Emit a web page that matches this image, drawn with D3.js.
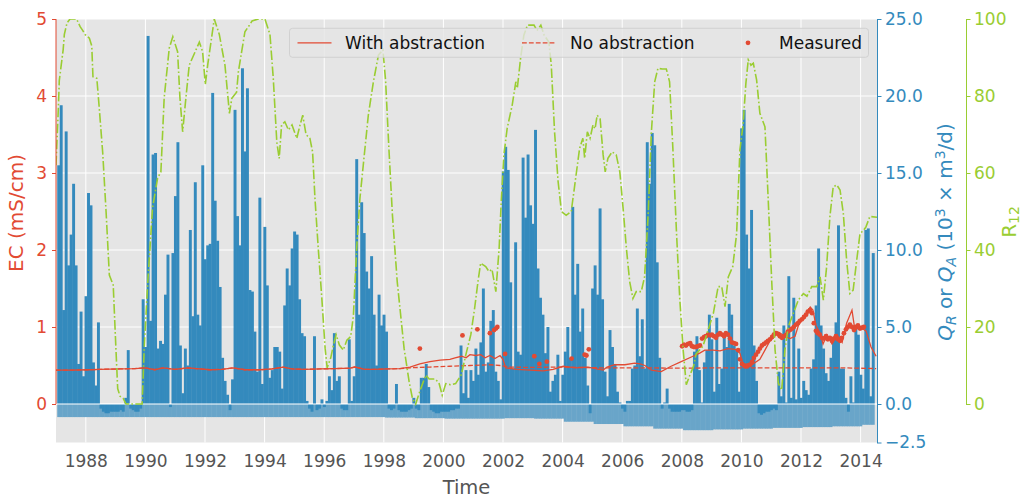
<!DOCTYPE html>
<html><head><meta charset="utf-8">
<script src="https://cdn.jsdelivr.net/npm/d3@7"></script>
<style>
html,body{margin:0;padding:0;background:#fff;}
svg{display:block;font-family:"DejaVu Sans",sans-serif;}
</style></head><body>
<svg id="chart" width="1023" height="498"></svg>
<script>
// Monthly recharge Q_R (10^3 m^3/d), January 1987 to May 2014
const rechargeStartYear = 1987;
const recharge = [
  15.5, 19.4, 6.1, 17.7, 9.0, 11.0, 14.3, 9.0, 2.6, 6.0, 1.8, 7.0,        // 1987
  13.7, 12.9, 2.7, 1.2, 5.3, -0.3, -0.5, -0.6, -0.6, -0.5, -0.5, -0.5,    // 1988
  -0.5, -0.4, -0.5, 0.4, 3.5, -0.3, -0.4, -0.5, -0.5, -0.3, 6.8, 3.7,     // 1989
  23.9, 5.4, 16.2, 16.3, 3.6, 4.1, 3.9, 7.1, 9.7, -0.2, 9.8, 13.5,        // 1990
  17.0, 3.8, 0.7, 3.6, 2.5, 11.3, 5.7, 14.4, 5.8, 5.1, 15.5, 9.4,         // 1991
  10.3, 10.4, 20.2, 13.2, 10.6, 7.6, 3.0, 1.5, 0.6, -0.4, 1.6, 19.1,      // 1992
  12.2, 10.3, 21.8, 16.4, 20.5, 7.4, 7.3, 4.7, 2.1, 13.4, 1.3, 11.5,      // 1993
  7.7, 1.7, 2.2, 3.7, 3.7, 3.4, 1.0, 6.4, 8.8, 7.7, 10.1, 11.2,           // 1994
  11.0, 6.8, 4.6, 4.4, 0.2, -0.3, -0.5, 4.4, -0.4, -0.3, 0.3, -0.2,       // 1995
  0.2, 1.8, 0.9, 4.6, 1.5, 1.8, -0.3, -0.4, -0.4, 4.2, 0.2, 1.8,          // 1996
  15.9, 5.8, 13.1, 11.1, 8.6, 7.5, 9.6, 5.8, 2.5, 7.1, 5.1, 5.8,          // 1997
  4.7, -0.3, -0.4, -0.3, 1.3, -0.4, -0.5, -0.5, -0.5, -0.4, -0.3, 0.4,    // 1998
  -0.3, -0.4, 1.7, 1.7, 2.6, 1.1, -0.4, -0.5, -0.6, -0.6, -0.5, -0.5,     // 1999
  -0.5, -0.5, -0.4, -0.4, -0.3, -0.3, 3.8, 0.7, 2.2, 0.4, 2.2, 1.5,       // 2000
  3.6, 1.9, 4.0, 7.5, 2.1, 2.7, 5.4, 6.1, 2.1, 1.5, 0.3, 15.1,            // 2001
  16.7, 15.2, 7.9, 2.3, 10.5, 3.4, 3.2, 16.0, 12.1, 16.2, 12.9, 11.7,     // 2002
  17.8, 8.8, 6.9, 5.8, 3.3, 5.0, 0.8, 1.5, 1.9, 3.2, 0.2, 1.9,            // 2003
  3.4, 5.0, 3.0, 12.8, 7.1, 9.1, 4.7, 6.2, 3.0, 1.2, -0.6, 7.5,           // 2004
  9.0, 7.1, 12.7, 6.8, 2.1, 0.5, 4.8, 3.7, 2.6, 0.8, 0.1, -0.3,           // 2005
  -0.5, 0.2, 0.2, 2.3, 2.5, 6.2, 3.1, 5.5, 2.3, 17.0, 14.3, 17.6,         // 2006
  16.8, 9.2, 3.0, -0.3, 0.1, 1.0, -0.3, -0.5, -0.5, -0.5, -0.5, -0.4,     // 2007
  -0.4, -0.5, -0.5, -0.4, 3.4, 4.4, 2.2, 0.1, 2.7, 3.5, 5.8, 4.2,         // 2008
  0.8, 5.6, 1.3, 2.3, 4.5, 3.7, 6.5, 5.8, 3.8, 3.5, 0.8, 17.9,            // 2009
  19.1, 11.0, 8.8, 12.6, 3.8, 1.5, -0.6, -0.7, -0.6, -0.5, -0.5, -0.4,    // 2010
  -0.3, -0.4, 2.1, 0.5, 5.1, 0.1, 8.3, 0.4, 6.9, 0.3, 3.6, 0.4,           // 2011
  1.5, 0.9, 0.6, 2.3, 2.9, 6.4, 10.1, 5.1, 3.6, 2.0, 1.5, 3.0,            // 2012
  4.2, 5.3, 11.6, 2.3, 2.3, 0.4, -0.5, 1.8, 0.1, 5.0, 4.5, 1.9,           // 2013
  1.0, 11.3, 11.4, 0.5, 9.8                                               // 2014
];

// Abstraction Q_A (10^3 m^3/d), one rate per year 1987-2014
const abstraction = [
  -0.85, -0.85, -0.85, -0.85, -0.85, -0.85, -0.85, -0.85, -0.85, -0.85,
  -0.85, -0.88, -0.92, -0.95, -0.95, -0.92, -0.95, -1.15, -1.30, -1.45,
  -1.60, -1.70, -1.65, -1.60, -1.55, -1.50, -1.45, -1.35
];

// 12-month recharge indicator R12: [decimal year, value]
const r12Series = [
  [1987.00,62],[1987.08,77],[1987.11,84],[1987.24,92],[1987.28,96],[1987.37,99],[1987.47,100],[1987.69,100],
  [1987.81,98],[1987.90,97],[1987.97,96],[1988.12,95],[1988.20,93],[1988.24,85],[1988.37,84.6],[1988.45,77],
  [1988.57,65],[1988.68,50],[1988.79,33.5],[1988.92,30.9],[1989.01,14.5],[1989.07,4],[1989.15,2],[1989.25,1.5],
  [1989.35,0],[1989.89,0],[1989.96,14.5],[1990.08,31.8],[1990.15,40],[1990.24,51],[1990.41,58.7],[1990.52,60.3],
  [1990.63,79.5],[1990.80,92.4],[1990.92,95.4],[1991.08,91.5],[1991.16,79.4],[1991.25,70.7],[1991.34,78],[1991.47,88],
  [1991.67,91.5],[1991.81,94],[1991.92,91.5],[1992.01,83],[1992.09,88],[1992.20,94],[1992.31,100],[1992.48,96],
  [1992.67,88],[1992.82,75.5],[1992.90,79.4],[1993.06,81],[1993.12,86.3],[1993.23,91.5],[1993.34,96.7],[1993.49,98.4],
  [1993.58,99.5],[1993.79,100],[1994.01,100],[1994.18,96],[1994.29,84.7],[1994.41,68],[1994.49,63.8],[1994.57,72.5],
  [1994.68,73.3],[1994.80,71.2],[1994.92,72.5],[1995.08,69],[1995.19,72.5],[1995.28,75],[1995.39,70],[1995.52,69],
  [1995.61,65.5],[1995.69,53.4],[1995.80,40.5],[1995.92,27.5],[1996.03,14.5],[1996.10,9.4],[1996.22,12],[1996.31,15.3],
  [1996.40,18],[1996.51,15.3],[1996.64,14],[1996.76,16.6],[1996.89,17.5],[1996.98,23],[1997.09,40.5],[1997.20,53.5],
  [1997.31,62],[1997.48,75],[1997.65,83.7],[1997.82,90.6],[1997.97,92],[1998.06,84],[1998.17,66.5],[1998.29,49],
  [1998.45,31.8],[1998.68,14.5],[1998.85,5.8],[1998.96,1.5],[1999.07,0],[1999.24,4],[1999.41,7.5],[1999.52,6.5],
  [1999.72,6.5],[1999.85,5.5],[1999.96,2.3],[2000.08,5.3],[2000.24,5],[2000.41,5.3],[2000.60,7.6],[2000.75,12.7],
  [2000.92,18],[2001.05,25],[2001.16,31.8],[2001.25,36.6],[2001.42,35.7],[2001.53,34.4],[2001.63,35],[2001.76,29.2],
  [2001.87,40.4],[2001.94,52.5],[2002.03,64.7],[2002.14,71.6],[2002.31,77.7],[2002.43,83.7],[2002.48,82],[2002.59,89.8],
  [2002.70,95.8],[2002.82,98.4],[2003.04,98.4],[2003.14,97],[2003.27,98.4],[2003.38,95.8],[2003.54,94],[2003.62,88],
  [2003.73,70.7],[2003.85,57.7],[2003.96,50],[2004.12,49],[2004.29,50],[2004.41,57],[2004.57,66.4],[2004.68,69],
  [2004.74,63.8],[2004.83,70.7],[2004.92,69],[2005.02,72.5],[2005.09,71.5],[2005.16,75],[2005.26,74],[2005.36,64.7],
  [2005.43,60.3],[2005.52,63.8],[2005.66,65.5],[2005.80,64.7],[2005.92,60.3],[2006.03,50.8],[2006.14,40.5],[2006.25,31.8],
  [2006.36,27.4],[2006.47,29.2],[2006.64,29.2],[2006.75,33],[2006.87,49],[2006.98,70.7],[2007.09,83.7],[2007.20,87.2],
  [2007.34,87],[2007.48,87],[2007.59,83.7],[2007.70,66.4],[2007.82,44.8],[2007.93,27.5],[2008.04,14.5],[2008.15,5],
  [2008.27,7.5],[2008.39,9.7],[2008.48,13],[2008.71,15],[2009.06,23.6],[2009.22,30.5],[2009.34,30.5],[2009.45,25.3],
  [2009.56,33],[2009.71,35.7],[2009.84,44.3],[2009.95,66],[2010.06,72.9],[2010.15,83.3],[2010.23,89.4],[2010.32,88],
  [2010.40,88.5],[2010.51,84.2],[2010.62,75.5],[2010.79,72],[2010.90,53],[2011.02,31.4],[2011.13,14],[2011.24,5.4],
  [2011.35,3.6],[2011.46,14],[2011.57,20],[2011.74,23.5],[2011.91,27],[2012.08,28.7],[2012.20,28],[2012.36,30.5],
  [2012.53,30.5],[2012.64,33],[2012.75,27],[2012.86,35.7],[2012.97,48.7],[2013.08,56.4],[2013.20,56.9],[2013.31,55.6],
  [2013.42,49.5],[2013.53,37.4],[2013.64,28.7],[2013.75,29.6],[2013.87,37.4],[2013.98,44.3],[2014.09,45],[2014.18,46],
  [2014.31,48.7],[2014.55,48.5]
];

// Simulated EC (mS/cm) with abstraction: [decimal year, EC]
const ecWithAbstraction = [
  [1987.00,0.44],[1987.47,0.44],[1988.14,0.445],[1988.48,0.45],[1989.15,0.455],[1989.65,0.46],[1989.99,0.47],
  [1990.32,0.445],[1990.59,0.47],[1990.99,0.45],[1991.43,0.47],[1991.83,0.455],[1992.17,0.445],[1992.57,0.45],
  [1992.94,0.47],[1993.34,0.445],[1993.85,0.445],[1994.25,0.455],[1994.62,0.48],[1994.92,0.455],[1995.36,0.45],
  [1995.86,0.455],[1996.36,0.46],[1996.87,0.465],[1997.03,0.48],[1997.37,0.45],[1997.70,0.45],[1998.07,0.455],
  [1998.54,0.46],[1998.88,0.48],[1999.21,0.52],[1999.55,0.55],[1999.89,0.57],[2000.22,0.58],[2000.39,0.60],
  [2000.61,0.62],[2000.76,0.60],[2000.89,0.64],[2001.09,0.63],[2001.25,0.64],[2001.40,0.60],[2001.56,0.63],
  [2001.73,0.59],[2001.90,0.63],[2002.00,0.58],[2002.09,0.47],[2002.46,0.45],[2002.91,0.44],[2003.35,0.43],
  [2003.68,0.45],[2004.02,0.49],[2004.42,0.47],[2004.85,0.48],[2005.36,0.44],[2005.49,0.48],[2005.75,0.51],
  [2006.09,0.51],[2006.42,0.53],[2006.60,0.52],[2006.76,0.50],[2006.98,0.44],[2007.31,0.42],[2007.64,0.49],
  [2007.98,0.55],[2008.32,0.61],[2008.60,0.66],[2008.77,0.70],[2009.05,0.70],[2009.28,0.69],[2009.55,0.72],
  [2009.79,0.71],[2009.95,0.66],[2010.08,0.48],[2010.22,0.48],[2010.39,0.52],[2010.62,0.58],[2010.79,0.70],
  [2010.97,0.83],[2011.14,0.94],[2011.30,0.92],[2011.46,0.88],[2011.63,0.85],[2011.80,0.88],[2011.92,1.03],
  [2012.14,1.16],[2012.31,1.26],[2012.40,1.22],[2012.50,1.02],[2012.64,0.92],[2012.74,0.78],[2012.87,0.90],
  [2013.04,0.78],[2013.21,0.90],[2013.38,0.80],[2013.53,1.05],[2013.71,1.22],[2013.81,0.96],[2013.98,1.00],
  [2014.18,0.95],[2014.35,0.74],[2014.52,0.62]
];

// Simulated EC (mS/cm) without abstraction: [decimal year, EC]
const ecNoAbstraction = [
  [1987.00,0.44],[1987.47,0.44],[1988.14,0.445],[1988.48,0.45],[1989.15,0.455],[1989.65,0.46],[1989.99,0.47],
  [1990.32,0.445],[1990.59,0.47],[1990.99,0.45],[1991.43,0.47],[1991.83,0.455],[1992.17,0.445],[1992.57,0.45],
  [1992.94,0.47],[1993.34,0.445],[1993.85,0.445],[1994.25,0.455],[1994.62,0.48],[1994.92,0.455],[1995.36,0.45],
  [1995.86,0.455],[1996.36,0.46],[1996.87,0.465],[1997.03,0.48],[1997.37,0.45],[1997.70,0.45],[1998.07,0.455],
  [1998.54,0.46],[1998.88,0.47],[1999.55,0.48],[2000.22,0.49],[2000.89,0.50],[2001.56,0.51],[2001.90,0.50],
  [2002.23,0.48],[2002.91,0.475],[2003.91,0.48],[2005.26,0.47],[2006.60,0.47],[2007.94,0.465],[2009.28,0.47],
  [2010.62,0.47],[2011.96,0.47],[2013.31,0.47],[2014.52,0.46]
];

// Measured EC (mS/cm): [decimal year, EC]
const measuredEC = [
  [1999.21,0.72],[2000.64,0.89],[2001.14,0.97],[2001.56,0.92],[2001.70,0.96],[2001.76,0.98],[2001.81,1.00],
  [2002.07,0.65],[2003.05,0.62],[2003.22,0.52],[2003.47,0.55],[2004.30,0.59],[2004.74,0.64],[2004.80,0.63],
  [2004.88,0.71],
  [2008.01,0.75],[2008.07,0.77],[2008.14,0.76],[2008.21,0.78],[2008.28,0.79],[2008.34,0.75],[2008.41,0.74],
  [2008.48,0.74],[2008.54,0.75],[2008.61,0.76],[2008.68,0.85],[2008.75,0.87],[2008.81,0.88],[2008.88,0.90],
  [2008.95,0.89],[2009.01,0.90],[2009.08,0.88],[2009.15,0.86],[2009.22,0.90],[2009.28,0.92],[2009.35,0.90],
  [2009.42,0.88],[2009.48,0.92],[2009.55,0.90],[2009.62,0.85],[2009.68,0.80],[2009.75,0.79],[2009.82,0.78],
  [2009.89,0.70],[2009.95,0.58],[2010.02,0.52],[2010.09,0.50],[2010.15,0.49],[2010.22,0.50],[2010.29,0.51],
  [2010.36,0.55],[2010.42,0.60],[2010.49,0.64],[2010.56,0.68],[2010.62,0.72],[2010.69,0.76],[2010.76,0.78],
  [2010.83,0.80],[2010.89,0.82],[2010.96,0.84],[2011.03,0.87],[2011.09,0.90],[2011.16,0.92],[2011.23,0.91],
  [2011.29,0.88],[2011.36,0.86],[2011.43,0.88],[2011.50,0.90],[2011.56,0.94],[2011.63,0.96],[2011.70,0.98],
  [2011.76,1.00],[2011.83,1.03],[2011.90,1.05],[2011.96,1.08],[2012.03,1.10],[2012.10,1.13],[2012.17,1.16],
  [2012.23,1.20],[2012.30,1.22],[2012.37,1.18],[2012.43,1.05],[2012.50,0.95],[2012.56,0.92],[2012.63,0.90],
  [2012.70,0.86],[2012.77,0.85],[2012.84,0.88],[2012.90,0.84],[2012.97,0.86],[2013.04,0.82],[2013.10,0.85],
  [2013.17,0.88],[2013.24,0.84],[2013.31,0.82],[2013.37,0.86],[2013.44,0.92],[2013.51,0.97],[2013.57,1.00],
  [2013.64,1.03],[2013.71,1.00],[2013.78,0.96],[2013.84,1.00],[2013.91,1.02],[2013.98,0.98],[2014.04,0.99],
  [2014.11,1.00]
];

// Tick values
const yearTicks = [1988, 1990, 1992, 1994, 1996, 1998, 2000, 2002, 2004, 2006, 2008, 2010, 2012, 2014];
const ecTicks = [0, 1, 2, 3, 4, 5];
const qTicks = [-2.5, 0, 5, 10, 15, 20, 25];
const r12Ticks = [0, 20, 40, 60, 80, 100];

const legendLabels = ["With abstraction", "No abstraction", "Measured"];

// ---- drawing ----
const RED = "#E24A33", BLUE = "#348ABD", GREEN = "#9ACD32", BG = "#E5E5E5", TEXT = "#555555";
const svg = d3.select("#chart");
const area = {left: 56, right: 877, top: 19, bottom: 442.5};

const x = d3.scaleLinear().domain([1987, 2014.55]).range([area.left, area.right]);
const yEC = d3.scaleLinear().domain([-0.5, 5]).range([area.bottom, area.top]);
const yQ = d3.scaleLinear().domain([-2.5, 25]).range([area.bottom, area.top]);
const yR = d3.scaleLinear().domain([0, 100]).range([yEC(0), area.top]);

svg.append("defs").append("clipPath").attr("id", "plotClip")
  .append("rect").attr("x", area.left).attr("y", area.top)
  .attr("width", area.right - area.left).attr("height", area.bottom - area.top);

svg.append("rect").attr("x", area.left).attr("y", area.top)
  .attr("width", area.right - area.left).attr("height", area.bottom - area.top)
  .attr("fill", BG);

// grid
const grid = svg.append("g").attr("stroke", "#fff").attr("stroke-width", 1);
grid.selectAll("line.v").data(yearTicks).join("line").attr("class", "v")
  .attr("x1", d => x(d)).attr("x2", d => x(d)).attr("y1", area.top).attr("y2", area.bottom);
grid.selectAll("line.h").data(ecTicks).join("line").attr("class", "h")
  .attr("x1", area.left).attr("x2", area.right).attr("y1", d => yEC(d)).attr("y2", d => yEC(d));

const plot = svg.append("g").attr("clip-path", "url(#plotClip)");

// monthly bars, centred on each month end; slight overlap avoids hairline seams
const months = recharge.map((v, i) => ({
  t: rechargeStartYear + (i + 1) / 12,
  qr: v,
  qa: abstraction[Math.floor(i / 12)]
}));
const half = 1 / 24;
const seam = 0.45;

plot.append("g").selectAll("rect").data(months).join("rect")
  .attr("x", d => x(d.t - half)).attr("width", d => x(d.t + half) - x(d.t - half) + seam)
  .attr("y", yQ(0)).attr("height", d => yQ(d.qa) - yQ(0))
  .attr("fill", "#69A5C9");

plot.append("g").selectAll("rect").data(months).join("rect")
  .attr("x", d => x(d.t - half)).attr("width", d => x(d.t + half) - x(d.t - half) + seam)
  .attr("y", d => yQ(Math.max(0, d.qr))).attr("height", d => Math.abs(yQ(d.qr) - yQ(0)))
  .attr("fill", BLUE);

plot.append("line").attr("x1", area.left).attr("x2", area.right)
  .attr("y1", yQ(0)).attr("y2", yQ(0)).attr("stroke", "#fff").attr("stroke-width", 1);

// EC lines and measurements
const ecLine = d3.line().x(d => x(d[0])).y(d => yEC(d[1]));
plot.append("path").datum(ecNoAbstraction).attr("d", ecLine)
  .attr("fill", "none").attr("stroke", RED).attr("stroke-width", 1.3).attr("stroke-dasharray", "4.8,2.1");
plot.append("path").datum(ecWithAbstraction).attr("d", ecLine)
  .attr("fill", "none").attr("stroke", RED).attr("stroke-width", 1.3);
plot.append("g").selectAll("circle").data(measuredEC).join("circle")
  .attr("cx", d => x(d[0])).attr("cy", d => yEC(d[1])).attr("r", 2.4).attr("fill", RED);

// R12
const rLine = d3.line().x(d => x(d[0])).y(d => yR(d[1]));
plot.append("path").datum(r12Series).attr("d", rLine)
  .attr("fill", "none").attr("stroke", GREEN).attr("stroke-width", 1.6)
  .attr("stroke-dasharray", "9.6,2.4,1.6,2.4");

// axes
function styleAxis(g, color, size) {
  g.attr("font-family", null).attr("font-size", null);
  g.selectAll("text").attr("fill", color).style("font-size", size + "px");
  g.selectAll(".tick line").attr("stroke", color);
  g.select(".domain").attr("stroke", color);
}

const gx = svg.append("g").attr("transform", `translate(0,${area.bottom})`)
  .call(d3.axisBottom(x).tickValues(yearTicks).tickFormat(d3.format("d")).tickSize(0).tickPadding(12.4));
styleAxis(gx, TEXT, 17);
gx.select(".domain").remove();

const gl = svg.append("g").attr("transform", `translate(${area.left},0)`)
  .call(d3.axisLeft(yEC).tickValues(ecTicks).tickFormat(d3.format("d")).tickSize(4).tickPadding(5));
styleAxis(gl, RED, 17);
gl.select(".domain").remove();
svg.append("line").attr("x1", area.left).attr("x2", area.left)
  .attr("y1", yEC(0)).attr("y2", yEC(5)).attr("stroke", RED).attr("stroke-width", 1);

const gq = svg.append("g").attr("transform", `translate(${area.right},0)`)
  .call(d3.axisRight(yQ).tickValues(qTicks).tickFormat(d3.format(".1f")).tickSize(4.5).tickSizeOuter(0).tickPadding(3.5));
styleAxis(gq, BLUE, 17);

const gr = svg.append("g").attr("transform", "translate(966,0)")
  .call(d3.axisRight(yR).tickValues(r12Ticks).tickFormat(d3.format("d")).tickSize(4.5).tickSizeOuter(0).tickPadding(3.5));
styleAxis(gr, GREEN, 17);

// axis titles
svg.append("text").attr("x", (area.left + area.right) / 2).attr("y", 494)
  .attr("text-anchor", "middle").attr("fill", TEXT).style("font-size", "19.5px").text("Time");

svg.append("text").attr("transform", "translate(23,213) rotate(-90)")
  .attr("text-anchor", "middle").attr("fill", RED).style("font-size", "20px").text("EC (mS/cm)");

const qTitle = svg.append("text").attr("transform", "translate(952,232) rotate(-90)")
  .attr("text-anchor", "middle").attr("fill", BLUE).style("font-size", "20px");
[
  {s: "Q", it: true}, {s: "R", it: true, sub: true}, {s: " or "},
  {s: "Q", it: true}, {s: "A", it: true, sub: true}, {s: " (10"},
  {s: "3", sup: true}, {s: " × m"}, {s: "3", sup: true}, {s: "/d)"}
].reduce((shift, p) => {
  const target = p.sub ? 4 : p.sup ? -7 : 0;
  qTitle.append("tspan").attr("dy", target - shift)
    .style("font-style", p.it ? "italic" : "normal")
    .style("font-size", (p.sub || p.sup) ? "14px" : "20px").text(p.s);
  return target;
}, 0);

const rTitle = svg.append("text").attr("transform", "translate(1016,222) rotate(-90)")
  .attr("text-anchor", "middle").attr("fill", GREEN).style("font-size", "20px");
rTitle.append("tspan").text("R");
rTitle.append("tspan").attr("dy", 3).style("font-size", "14px").text("12");

// legend
const lg = svg.append("g");
lg.append("rect").attr("x", 289.5).attr("y", 28.3).attr("width", 579).attr("height", 29)
  .attr("rx", 3).attr("fill", BG).attr("fill-opacity", 0.8).attr("stroke", "#cccccc").attr("stroke-width", 0.8);
const ly = 42.8;
lg.append("line").attr("x1", 297.5).attr("x2", 331.5).attr("y1", ly).attr("y2", ly)
  .attr("stroke", RED).attr("stroke-width", 1.3);
lg.append("line").attr("x1", 522).attr("x2", 556).attr("y1", ly).attr("y2", ly)
  .attr("stroke", RED).attr("stroke-width", 1.3).attr("stroke-dasharray", "4.8,2.1");
lg.append("circle").attr("cx", 748).attr("cy", ly).attr("r", 2.4).attr("fill", RED);
lg.selectAll("text").data(legendLabels).join("text")
  .attr("x", (d, i) => [345, 570, 779][i]).attr("y", ly).attr("dy", "0.36em")
  .attr("fill", "#111").style("font-size", "17px").text(d => d);
</script>
</body></html>
